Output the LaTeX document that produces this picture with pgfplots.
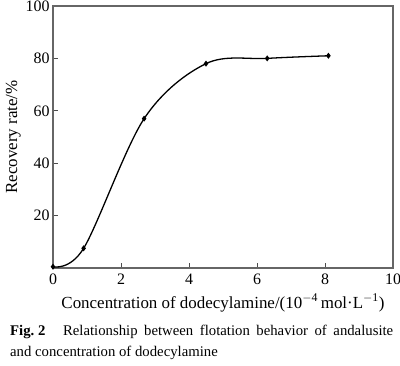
\documentclass[border=0pt]{standalone}
\usepackage{pgfplots}
\pgfplotsset{compat=1.18}
\usepackage{fontspec}
\setmainfont{Liberation Serif}
\begin{document}
\begin{tikzpicture}[x=1bp,y=1bp]
\path[use as bounding box] (0,0) rectangle (400bp,366bp);
\begin{axis}[
  at={(53bp,98bp)}, anchor=south west,
  scale only axis, width=340bp, height=262bp,
  xmin=0, xmax=10, ymin=0, ymax=100,
  xtick={0,2,4,6,8,10}, ytick={20,40,60,80,100},
  tick align=inside, major tick length=5bp,
  xtick pos=bottom, ytick pos=left,
  axis line style={draw=black!60, line width=1.2pt},
  tick style={draw=black!70, line width=0.8pt},
  /pgf/number format/assume math mode=true,
  ticklabel style={font=\fontsize{16}{18}\selectfont},
  xticklabel style={yshift=-2bp},
  xlabel={Concentration of dodecylamine/(10\textsuperscript{$-$4}\,mol\textperiodcentered L\textsuperscript{$-$1})},
  ylabel={Recovery rate/\%},
  label style={font=\fontsize{17}{19}\selectfont},
  xlabel style={yshift=-3bp},
  ylabel style={yshift=-2bp},
]
\addplot[black, line width=1.3pt, smooth, tension=0.55, mark=diamond*, mark size=2pt, mark options={solid}]
coordinates {(0,0.5) (0.9,7.5) (2.68,57) (4.5,78) (6.3,80) (8.1,81)};
\end{axis}
\node[anchor=base west, text width=383bp, align=justify, inner sep=0pt, font=\fontsize{14.8}{22}\selectfont] at (10bp,31bp)
{\mbox{\textbf{Fig.~2}}\hspace{1.2em}Relationship between flotation behavior of andalusite\linebreak and concentration of dodecylamine};
\end{tikzpicture}
\end{document}
